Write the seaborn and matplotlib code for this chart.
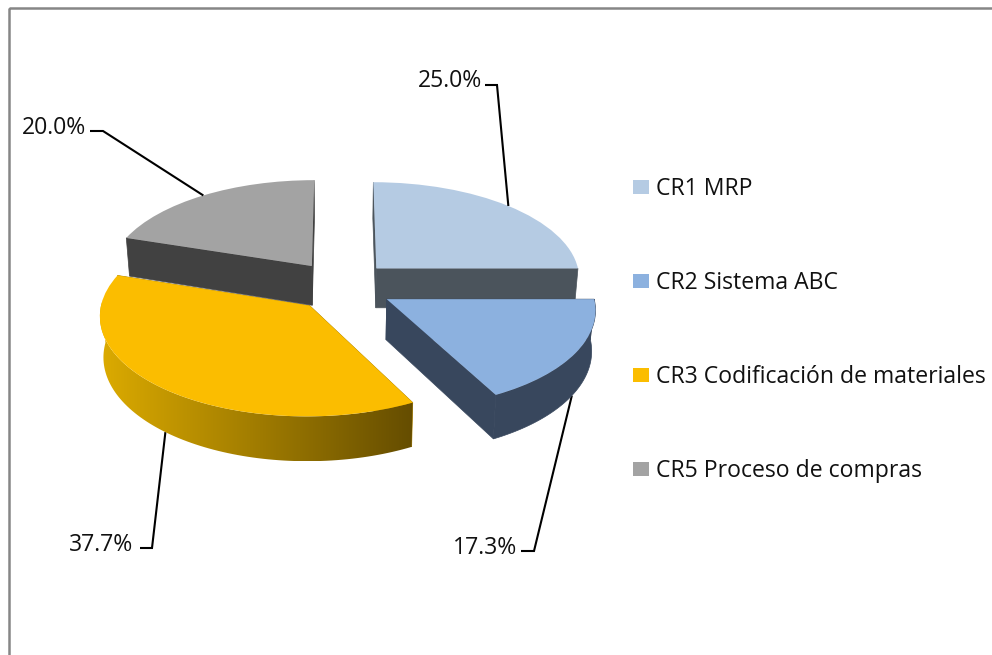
import numpy as np
import matplotlib
matplotlib.use("Agg")
import matplotlib.pyplot as plt
from matplotlib.colors import LinearSegmentedColormap
from matplotlib.patches import Polygon, Rectangle
from matplotlib.transforms import Transform
import seaborn as sns

categories = ["CR1 MRP", "CR2 Sistema ABC", "CR3 Codificación de materiales", "CR5 Proceso de compras"]
values = [25.0, 17.3, 37.7, 20.0]
top_colors = ["#b5cbe3", "#8cb1df", "#fbbd00", "#a3a3a3"]
wall_colors = ["#4b545c", "#38475d", "#b08400", "#414141"]
offsets = [(0.18, 0.184), (0.225, -0.134), (-0.145, -0.199), (-0.14, 0.21)]
label_pos = [(482, 81), (517, 548), (133, 545), (86, 128)]
elbows = [[(485, 85), (497, 85)], [(521, 551), (534, 551)], [(140, 548), (152, 548)], [(90, 131), (103, 131)]]
anchor_z = [0, 1, 1, 0]

sns.set_theme(style="white")
plt.rcParams["font.family"] = ["Open Sans", "DejaVu Sans"]
FS = 16.6

X0, Y0, A, B, D, K, SHRINK = 340.0, 286.0, 205.0, 97.0, 40.0, 0.09, 0.015


class Proj(Transform):
    input_dims = output_dims = 2
    is_separable = False
    has_inverse = False

    def __init__(self, z=0.0):
        super().__init__()
        self.z = z

    def transform_non_affine(self, v):
        v = np.asarray(v, dtype=float)
        s = 1 / (1 + K * v[:, 1])
        return np.column_stack([X0 + A * v[:, 0] * s * (1 - SHRINK * self.z),
                                Y0 - B * v[:, 1] * s + D * self.z * s])


top, bottom = Proj(0), Proj(1)

fig, ax = plt.subplots(figsize=(9.92, 6.55), dpi=100)
ax.set_position([0, 0, 1, 1])
wedges, _ = ax.pie(values, startangle=90, counterclock=False, colors=top_colors,
                   wedgeprops={"linewidth": 0})
ax.set_aspect("auto")
ax.set_xlim(0, 992)
ax.set_ylim(655, 0)

ramp = LinearSegmentedColormap.from_list("gold", ["#dcab00", "#654d00"])


def circle(t, off):
    t = np.radians(t)
    return np.column_stack([off[0] + np.cos(t), off[1] + np.sin(t)])


def draw_slice(i):
    w, off = wedges[i], offsets[i]
    t1, t2 = w.theta1, w.theta2
    z = 5 + 3 * i
    apex = np.array([off])
    for t in (t1, t2):
        edge = np.vstack([apex, circle(t, off)])
        poly = np.vstack([top.transform(edge), bottom.transform(edge)[::-1]])
        ax.add_patch(Polygon(poly, closed=True, fc=wall_colors[i], ec=wall_colors[i], lw=0.5, zorder=z))
    lo, hi = max(t1, -180 if t2 <= 0 else 180), min(t2, 0 if t2 <= 0 else 360)
    if i == 2:
        lo, hi = 178, 297.7
    if hi > lo:
        arc = circle(np.linspace(lo, hi, 90), off)
        poly = np.vstack([top.transform(arc), bottom.transform(arc)[::-1]])
        if i == 2:
            xs = poly[:, 0]
            im = ax.imshow(np.linspace(0, 1, 256)[None, :], cmap=ramp, aspect="auto", zorder=z + 1,
                           extent=(xs.min(), xs.max(), poly[:, 1].max(), poly[:, 1].min()))
            clip = Polygon(poly, closed=True, transform=ax.transData, fc="none", ec="none")
            ax.add_patch(clip)
            im.set_clip_path(clip)
        else:
            ax.add_patch(Polygon(poly, closed=True, fc=wall_colors[i], ec=wall_colors[i], lw=0.5, zorder=z + 1))
    w.set_center(off)
    w.set_transform(top + ax.transData)
    w.set_zorder(z + 2)


for i in (3, 0, 1, 2):
    draw_slice(i)

ax.set_xlim(0, 992)
ax.set_ylim(655, 0)

for i, w in enumerate(wedges):
    mid = 0.5 * (w.theta1 + w.theta2)
    proj = bottom if anchor_z[i] else top
    anchor = proj.transform(circle(np.array([mid]), offsets[i]))[0]
    pts = np.vstack([elbows[i], anchor])
    ax.plot(pts[:, 0], pts[:, 1], color="black", lw=1.5, zorder=1 if i in (2, 1) else 30,
            solid_capstyle="butt", solid_joinstyle="miter")
    ax.text(label_pos[i][0], label_pos[i][1], f"{values[i]:.1f}%", ha="right", va="center",
            fontsize=FS, color="#111111", zorder=31)

ax.legend(handles=wedges, labels=categories, loc="upper left", bbox_to_anchor=(633 / 992, 1 - 177 / 655),
          bbox_transform=ax.transAxes, frameon=False, fontsize=FS, handlelength=0.7, handleheight=0.6,
          handletextpad=0.3, labelspacing=3.04, borderpad=0, borderaxespad=0, labelcolor="#111111")

ax.add_patch(Rectangle((8.5, 8), 1200, 1200, fc="none", ec="#868686", lw=1.8, zorder=40, clip_on=True))

fig.savefig("out.png", dpi=100, facecolor="white")
